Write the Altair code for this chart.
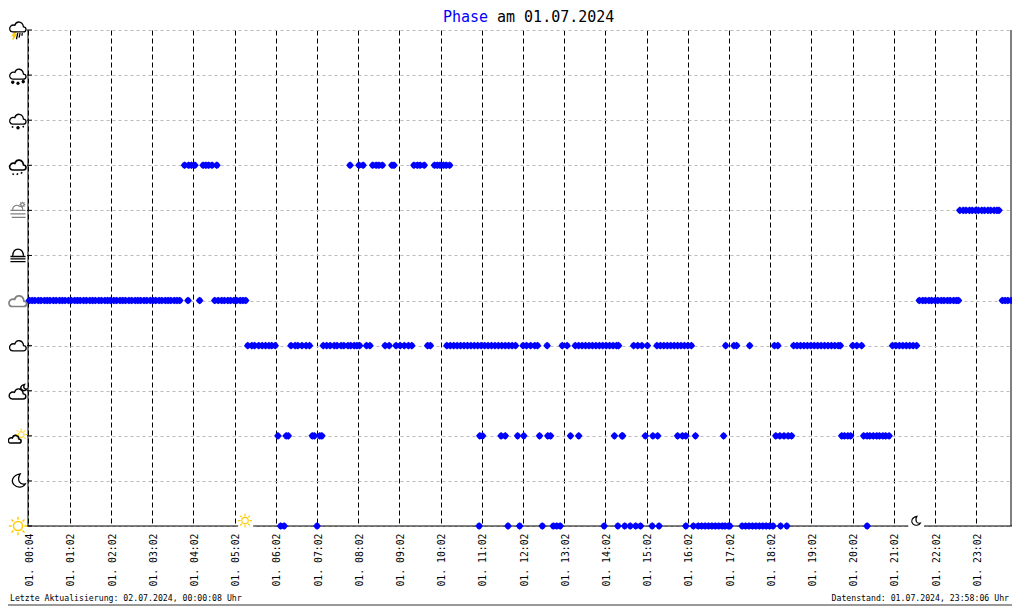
import altair as alt
import pandas as pd

title_phase = "Phase"
title_rest = "am 01.07.2024"
footer_left = "Letzte Aktualisierung: 02.07.2024, 00:00:08 Uhr"
footer_right = "Datenstand: 01.07.2024, 23:58:06 Uhr"

tick_minutes = [1] + [62 + 60 * h for h in range(23)]
tick_labels = ["01. 00:04"] + [f"01. {h:02d}:02" for h in range(1, 24)]
levels = list(range(12))

lev8 = [229,235,239,244,256,260,264,269,276,470,483,489,503,508,512,517,531,534,563,568,572,578,593,597,601,606,610,615]
lev7 = [1358,1363,1367,1372,1376,1381,1385,1390,1394,1399,1403,1408,1412,1415]
lev5 = [3,7,11,16,20,25,29,33,38,42,47,51,55,60,64,69,73,77,82,86,91,95,99,104,108,113,117,121,126,130,135,139,143,148,152,157,161,165,170,174,179,183,187,192,196,201,205,209,214,218,222,
        234,251,273,278,283,287,292,296,301,305,310,314,318,
        1299,1304,1308,1313,1317,1322,1326,1331,1335,1340,1344,1349,1353,1356,1420,1424,1428,1433,1437]
lev4 = [321,327,331,337,342,347,352,356,361,384,390,394,400,406,411,431,436,441,447,451,457,461,467,471,476,480,484,494,499,
        521,527,537,543,549,555,560,583,587,
        611,616,621,626,631,636,641,646,651,656,661,666,671,676,681,686,691,696,701,706,711,
        722,727,733,739,743,757,779,786,
        798,803,808,813,818,823,828,833,838,843,848,853,858,861,
        883,889,895,903,917,922,927,932,937,942,947,952,957,962,967,
        1017,1029,1033,1052,1088,1093,
        1116,1121,1126,1131,1136,1141,1146,1151,1156,1161,1166,1171,1176,1181,1184,
        1202,1208,1215,1260,1265,1270,1275,1280,1285,1290,1295]
lev2 = [365,377,380,415,418,426,429,659,663,690,696,714,723,746,758,762,791,803,855,866,867,900,911,918,947,954,959,973,1014,
        1090,1096,1102,1108,1113,1186,1190,1195,1199,1218,1223,1227,1232,1237,1241,1246,1250,1255]
lev0 = [369,374,422,658,700,717,750,766,771,776,840,860,870,878,886,893,910,920,959,970,
        977,982,987,992,997,1002,1007,1012,1016,1021,1023,
        1041,1046,1051,1056,1061,1066,1071,1076,1081,1086,1097,1106,1223]

sunrise_minute, sunset_minute = 317, 1294
gap_sun = (307, 329)
gap_moon = (1283, 1306)

BLACK, GOLD, GRAY = "#000000", "#ffcc00", "#808080"
MARKER = "M-1,0L-0.5,-0.64L0,-1L0.5,-0.64L1,0L0.5,0.64L0,1L-0.5,0.64Z"


def fmt(v):
    return f"{v:.3f}"


def cloud(dx=0, dy=0, s=1.0):
    pts = [(-0.5, 0.48), (0.5, 0.48), (0.85, 0.48), (0.85, 0.02), (0.52, 0.0),
           (0.45, -0.55), (-0.15, -0.62), (-0.3, -0.15), (-0.6, -0.25), (-0.85, 0.0),
           (-0.78, 0.27), (-0.74, 0.4), (-0.62, 0.48), (-0.5, 0.48)]
    p = [(fmt(x * s + dx), fmt(y * s + dy)) for x, y in pts]
    d = f"M{p[0][0]},{p[0][1]}L{p[1][0]},{p[1][1]}"
    for i in range(2, 14, 3):
        d += f"C{p[i][0]},{p[i][1]} {p[i+1][0]},{p[i+1][1]} {p[i+2][0]},{p[i+2][1]}"
    return d + "Z"


def star(x, y, r=0.16):
    d = ""
    for a, b in [(1, 0), (0.5, 0.87), (-0.5, 0.87)]:
        d += f"M{fmt(x-a*r)},{fmt(y-b*r)}L{fmt(x+a*r)},{fmt(y+b*r)}"
    return d


def seg(x1, y1, x2, y2):
    return f"M{fmt(x1)},{fmt(y1)}L{fmt(x2)},{fmt(y2)}"


def sun(dx=0, dy=0, r=0.4, ray1=0.55, ray2=0.85):
    d = (f"M{fmt(dx-r)},{fmt(dy)}A{r},{r} 0 1 1 {fmt(dx+r)},{fmt(dy)}"
         f"A{r},{r} 0 1 1 {fmt(dx-r)},{fmt(dy)}Z")
    for a, b in [(1, 0), (0, 1), (0.71, 0.71), (0.71, -0.71)]:
        d += seg(dx + a * ray1, dy + b * ray1, dx + a * ray2, dy + b * ray2)
        d += seg(dx - a * ray1, dy - b * ray1, dx - a * ray2, dy - b * ray2)
    return d


def moon(dx=0, dy=0, s=1.0):
    p = [(0.15, -0.62), (-0.55, -0.5), (-0.72, 0.05), (-0.4, 0.38), (-0.1, 0.7), (0.45, 0.62),
         (0.62, 0.28), (0.15, 0.4), (-0.2, 0.0), (0.15, -0.62)]
    p = [f"{fmt(x*s+dx)},{fmt(y*s+dy)}" for x, y in p]
    return f"M{p[0]}C{p[1]} {p[2]} {p[3]}C{p[4]} {p[5]} {p[6]}C{p[7]} {p[8]} {p[9]}Z"


icon_rows = [
    (11, cloud(0, -0.3) + seg(-0.02, 0.3, -0.15, 0.88) + seg(0.2, 0.3, 0.1, 0.72) + seg(0.42, 0.3, 0.36, 0.55), BLACK, 1.3),
    (11, "M-0.33,0.18L-0.52,0.55L-0.36,0.52L-0.5,0.92L-0.2,0.42L-0.36,0.44L-0.2,0.18Z", GOLD, 1.2),
    (10, cloud(0, -0.1) + star(-0.5, 0.68) + star(0, 0.78) + star(0.5, 0.62), BLACK, 1.3),
    (9, cloud(0, -0.1) + star(-0.52, 0.65, 0.08) + star(0, 0.72) + star(0.5, 0.62, 0.08), BLACK, 1.3),
    (8, cloud(0, -0.03) + seg(-0.42, 0.78, -0.5, 0.9) + seg(-0.02, 0.78, -0.1, 0.92) + seg(0.38, 0.66, 0.3, 0.8), BLACK, 1.6),
    (7, "M-0.5,0.0C-0.55,-0.42 -0.1,-0.62 0.12,-0.38C0.32,-0.42 0.46,-0.25 0.46,-0.02" + seg(-0.72, 0.0, 0.72, 0.0) + seg(-0.72, 0.33, 0.72, 0.33) + seg(-0.6, 0.67, 0.72, 0.67) + sun(0.42, -0.55, 0.16, 0.2, 0.28), GRAY, 1.1),
    (6, "M-0.5,0.02C-0.45,-0.82 0.45,-0.82 0.52,0.02" + seg(-0.72, 0.1, 0.72, 0.1) + seg(-0.72, 0.33, 0.72, 0.33) + seg(-0.72, 0.58, 0.72, 0.58), BLACK, 1.3),
    (5, cloud(0, 0.05, 1.08), GRAY, 1.7),
    (4, cloud(0, 0.0, 1.02), BLACK, 1.3),
    (3, cloud(-0.03, 0.3, 1.02) + moon(0.55, -0.3, 0.5), BLACK, 1.4),
    (2, cloud(-0.3, 0.32, 0.78), BLACK, 1.5),
    (2, sun(0.3, -0.12, 0.27, 0.36, 0.58), GOLD, 1.0),
    (1, moon(0.05, -0.02, 1.05), BLACK, 1.3),
    (0, sun(0, 0, 0.43, 0.6, 0.87), GOLD, 1.5),
]
icons = pd.DataFrame(icon_rows, columns=["level", "path", "color", "sw"])
sky = pd.DataFrame({
    "minute": [sunrise_minute, sunset_minute],
    "level": [0, 0],
    "path": [sun(0, -0.45, 0.27, 0.37, 0.58), moon(0, -0.42, 0.62)],
    "color": [GOLD, BLACK],
})
gaps = pd.DataFrame({"a": [gap_sun[0], gap_moon[0]], "b": [gap_sun[1], gap_moon[1]], "level": [0, 0]})

rows = []
for lv, vals in [(8, lev8), (7, lev7), (5, lev5), (4, lev4), (2, lev2), (0, lev0)]:
    rows += [{"minute": m, "level": lv} for m in vals]
points = pd.DataFrame(rows)

x_scale = alt.Scale(domain=[1, 1434], nice=False, zero=False)
y_scale = alt.Scale(domain=[0, 11], nice=False, zero=False)

label_map = "{" + ",".join(f"{m}:'{t}'" for m, t in zip(tick_minutes, tick_labels)) + "}"

x_axis = alt.Axis(
    values=tick_minutes, title=None, domain=False, ticks=False,
    labelExpr=f"{label_map}[datum.value]", labelAngle=270, labelAlign="right", labelBaseline="middle",
    labelFont="DejaVu Sans Mono", labelFontSize=9.8, labelColor="#000000", labelPadding=7, labelOffset=1,
    labelOverlap=False, labelBound=False, labelFlush=False,
    grid=True, gridColor="#000000", gridDash=[5, 3], gridWidth=1,
)
y_axis = alt.Axis(
    values=levels, title=None, domain=False, ticks=False, labels=False,
    grid=True, gridColor="#bbbbbb", gridDash=[3, 3], gridWidth=1,
)
X = lambda f: alt.X(f, scale=x_scale, axis=x_axis)
Y = lambda f: alt.Y(f, scale=y_scale, axis=y_axis)

base_pts = alt.Chart(points).mark_point(filled=True, shape=MARKER, size=58, opacity=1, color="#0000ff").encode(
    x=X("minute:Q"), y=Y("level:Q"),
)

W, H = 984, 496
frame_df = pd.DataFrame({"n": [0]})
left_line = alt.Chart(frame_df).mark_rule(color="#000000", strokeWidth=1).encode(x=alt.value(0), y=alt.value(0), y2=alt.value(H))
right_line = alt.Chart(frame_df).mark_rule(color="#000000", strokeWidth=1).encode(x=alt.value(W - 1), y=alt.value(0), y2=alt.value(H))
bottom_line = alt.Chart(frame_df).mark_rule(color="#000000", strokeWidth=1).encode(x=alt.value(0), x2=alt.value(W), y=alt.value(H))
border_b = alt.Chart(frame_df).mark_rule(color="#999999", strokeWidth=2).encode(x=alt.value(-20), x2=alt.value(W), y=alt.value(575))

ticks_df = pd.DataFrame({"level": levels})
y_ticks = alt.Chart(ticks_df).mark_rule(color="#000000", strokeWidth=1).encode(
    x=alt.value(-1), x2=alt.value(4), y=Y("level:Q"))

gap_marks = alt.Chart(gaps).mark_rule(color="#ffffff", strokeWidth=3).encode(
    x=X("a:Q"), x2="b:Q", y=Y("level:Q"))


def icon_layer(df, sw):
    return alt.Chart(df).mark_point(filled=False, opacity=1, strokeWidth=sw, size=441).encode(
        x=alt.value(-10),
        y=Y("level:Q"),
        shape=alt.Shape("path:N", scale=None, legend=None),
        color=alt.Color("color:N", scale=None, legend=None),
    )


icon_layers = [icon_layer(icons[icons.sw == s], s) for s in sorted(icons.sw.unique())]

sky_layer = alt.Chart(sky).mark_point(filled=False, opacity=1, strokeWidth=1.1, size=576).encode(
    x=X("minute:Q"),
    y=Y("level:Q"),
    shape=alt.Shape("path:N", scale=None, legend=None),
    color=alt.Color("color:N", scale=None, legend=None),
)


def txt(s, x, y, size, color="#000000", align="left"):
    return alt.Chart(pd.DataFrame({"t": [s]})).mark_text(
        font="DejaVu Sans Mono", fontSize=size, color=color, align=align, baseline="middle"
    ).encode(x=alt.value(x), y=alt.value(y), text="t:N")


chart = alt.layer(
    left_line, right_line, bottom_line, y_ticks, gap_marks,
    *icon_layers, sky_layer, base_pts,
    txt(title_phase, 415, -13, 15, "#0000ff"),
    txt(title_rest, 469, -13, 15),
    txt(footer_left, -18, 569, 8.2),
    txt(footer_right, 981, 569, 8.2, align="right"),
    border_b,
).properties(
    width=W, height=H,
    padding={"left": 20, "top": 22, "right": 0, "bottom": 80},
    autosize=alt.AutoSizeParams(type="none"),
    background="#ffffff",
).configure_view(stroke=None)

chart.save("out.html", embed_options={"renderer": "svg", "actions": False})
